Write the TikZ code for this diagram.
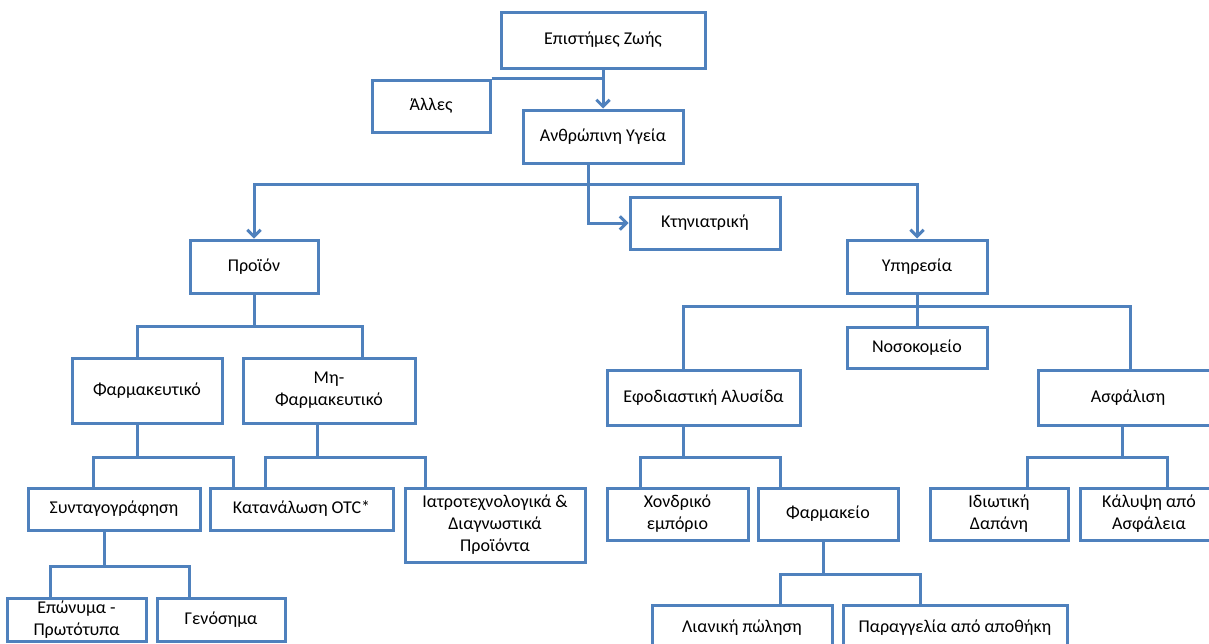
\documentclass[tikz,border=0pt]{standalone}
\usepackage{fontspec}
\setmainfont{Carlito}
\usetikzlibrary{arrows.meta, positioning, calc}
\definecolor{themeblue}{RGB}{79, 129, 189}

\begin{document}
\begin{tikzpicture}[
    x=0.75pt, y=-0.75pt,
    box/.style={rectangle, draw=themeblue, line width=2.25pt, fill=white, align=center, font=\fontsize{13.5}{16.5}\selectfont, inner sep=1pt},
    line/.style={draw=themeblue, line width=2.25pt},
    arrow/.style={line, -{Straight Barb[length=5pt, width=10pt]}}
]
\clip (0,0) rectangle (1209,643);
\fill[white] (0,0) rectangle (1209,643);

% top levels
\node[box, minimum width=153pt, minimum height=42pt] (zoi) at (603,40) {Επιστήμες Ζωής};
\node[box, minimum width=88.5pt, minimum height=39pt] (alles) at (431,106) {Άλλες};
\node[box, minimum width=120pt, minimum height=39.75pt] (anth) at (603,136.5) {Ανθρώπινη Υγεία};
\node[box, minimum width=112.5pt, minimum height=39pt] (ktin) at (705,223) {Κτηνιατρική};
\node[box, minimum width=96pt, minimum height=39.75pt] (proion) at (254,266.5) {Προϊόν};
\node[box, minimum width=105pt, minimum height=39.75pt] (ypir) at (917,266.5) {Υπηρεσία};

% product branch
\node[box, minimum width=112.5pt, minimum height=48.75pt] (farm) at (147,390.5) {Φαρμακευτικό};
\node[box, minimum width=129pt, minimum height=48.75pt] (mifarm) at (329,390.5) {Μη-\\Φαρμακευτικό};
\node[box, minimum width=129pt, minimum height=31.5pt] (synt) at (114,509) {Συνταγογράφηση};
\node[box, minimum width=137.25pt, minimum height=31.5pt] (otc) at (301.5,509) {Κατανάλωση OTC*};
\node[box, minimum width=135pt, minimum height=55.5pt] (iatro) at (495,525) {Ιατροτεχνολογικά \&\\Διαγνωστικά\\Προϊόντα};
\node[box, minimum width=104.25pt, minimum height=32.25pt] (epon) at (76.5,619.5) {Επώνυμα -\\Πρωτότυπα};
\node[box, minimum width=96pt, minimum height=32.25pt] (genos) at (221,619.5) {Γενόσημα};

% service branch
\node[box, minimum width=105pt, minimum height=30.75pt] (nosok) at (917,347.5) {Νοσοκομείο};
\node[box, minimum width=144.75pt, minimum height=41.25pt] (efod) at (703.5,397.5) {Εφοδιαστική Αλυσίδα};
\node[box, minimum width=135pt, minimum height=41.25pt] (asfal) at (1128,397.5) {Ασφάλιση};
\node[box, minimum width=105.75pt, minimum height=39pt] (xondr) at (677.5,514) {Χονδρικό\\εμπόριο};
\node[box, minimum width=105pt, minimum height=39pt] (farmakeio) at (828,514) {Φαρμακείο};
\node[box, minimum width=135pt, minimum height=34.5pt] (lian) at (742,628) {Λιανική πώληση};
\node[box, minimum width=168pt, minimum height=34.5pt] (paragg) at (955,628) {Παραγγελία από αποθήκη};
\node[box, minimum width=103.5pt, minimum height=39pt] (idiot) at (999,514) {Ιδιωτική\\Δαπάνη};
\node[box, minimum width=103.5pt, minimum height=39pt] (kalypsi) at (1149,514) {Κάλυψη από\\Ασφάλεια};

\draw[arrow] (zoi.south) -- (anth.north);
\draw[line] (alles.north east) -- (alles.north east -| zoi.south);
\draw[line] ($(anth.south)+(-15,0)$) -- ++(0,20) coordinate (hub);
\draw[arrow] (hub) -| (proion.north);
\draw[arrow] (hub) -| (ypir.north);
\draw[arrow] (hub) |- (ktin.west);

\draw[line] (proion.south) -- ++(0,32) coordinate (pj);
\draw[line] ($(farm.north)+(-10,0)$) |- (pj) -| ($(mifarm.north)+(33,0)$);
\draw[line] ($(farm.south)+(-10,0)$) -- ++(0,33) coordinate (fj);
\draw[line] ($(synt.north)+(-21,0)$) |- (fj) -| ($(otc.north)+(-68.5,0)$);
\draw[line] ($(mifarm.south)+(-12,0)$) -- ++(0,33) coordinate (mj);
\draw[line] ($(otc.north)+(-36.5,0)$) |- (mj) -| ($(iatro.north)+(-70,0)$);
\draw[line] ($(synt.south)+(-10,0)$) -- ++(0,35) coordinate (sj);
\draw[line] ($(epon.north)+(-26.5,0)$) |- (sj) -| ($(genos.north)+(-32,0)$);

\draw[line] (ypir.south) -- ++(0,12) coordinate (yj);
\draw[line] ($(efod.north)+(-20.5,0)$) |- (yj) -| ($(asfal.north)+(2,0)$);
\draw[line] (yj) -- (nosok.north);
\draw[line] ($(efod.south)+(-20.5,0)$) -- ++(0,31) coordinate (ej);
\draw[line] ($(xondr.north)+(-37.5,0)$) |- (ej) -| ($(farmakeio.north)+(-48,0)$);
\draw[line] ($(farmakeio.south)+(-5,0)$) -- ++(0,33) coordinate (fkj);
\draw[line] ($(lian.north)+(38,0)$) |- (fkj) -| ($(paragg.north)+(-35,0)$);
\draw[line] ($(asfal.south)+(-6,0)$) -- ++(0,31) coordinate (aj);
\draw[line] ($(idiot.north)+(28,0)$) |- (aj) -| ($(kalypsi.north)+(18,0)$);

\end{tikzpicture}
\end{document}
